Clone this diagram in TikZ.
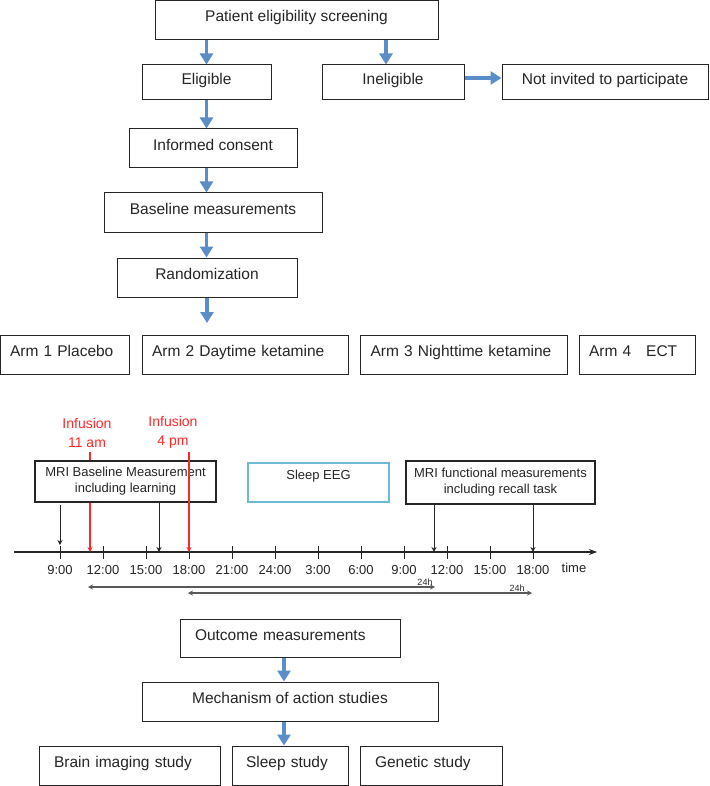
\documentclass[tikz,border=0pt]{standalone}
\usepackage{fontspec}
\setmainfont{Liberation Sans}
\usetikzlibrary{arrows.meta}
\definecolor{flowblue}{RGB}{91,141,201}
\definecolor{eegblue}{RGB}{110,185,212}
\definecolor{infred}{RGB}{255,40,40}
\definecolor{ink}{RGB}{38,38,38}
\begin{document}
\begin{tikzpicture}[x=1pt,y=-1pt]
\tikzset{
  every node/.style={text=ink},
  bigf/.style={font=\fontsize{15.5}{18}\selectfont},
  fbox/.style={bigf, draw=ink, line width=1pt, fill=white, inner xsep=0pt, inner ysep=0pt, text height=11pt, text depth=7pt},
  lbox/.style={fbox, align=left},
  tbox/.style={draw=ink, line width=1.3pt, fill=white, inner sep=0pt, align=center, font=\fontsize{13}{16}\selectfont},
  flow/.style={draw=flowblue, line width=3.5pt, -{Triangle[width=13pt,length=11pt]}},
  pin/.style={draw=ink, line width=0.9pt, -{Stealth[length=5pt,width=5pt]}},
  redpin/.style={draw=infred, line width=1.1pt, -{Stealth[length=5pt,width=5pt]}},
  span/.style={draw=gray!70!black, line width=1.4pt, {Stealth[length=5pt,width=5pt]}-{Stealth[length=5pt,width=5pt]}},
  ticklab/.style={font=\fontsize{13}{15}\selectfont, inner sep=0pt},
  inflab/.style={font=\fontsize{14}{19}\selectfont, text=infred, align=center, inner sep=0pt},
  smalllab/.style={font=\fontsize{9}{10}\selectfont, anchor=base, inner sep=0pt},
}
\fill[white] (0,0) rectangle (709,786);
\useasboundingbox (0,0) rectangle (709,786);

% ---------- top flow ----------
\node[fbox, minimum width=283pt, minimum height=39pt] (pat) at (296.5,20) {Patient eligibility screening};
\node[fbox, minimum width=129pt, minimum height=35pt] (elig) at (206.5,82.5) {Eligible};
\node[fbox, minimum width=142pt, minimum height=35pt] (inel) at (393,82.5) {Ineligible};
\node[fbox, minimum width=206pt, minimum height=35pt] (notinv) at (605,82.5) {Not invited to participate};
\node[fbox, minimum width=168pt, minimum height=39pt] (inf) at (213,148.5) {Informed consent};
\node[fbox, minimum width=218pt, minimum height=39pt] (base) at (213,212.5) {Baseline measurements};
\node[fbox, minimum width=180pt, minimum height=39pt] (rand) at (207,277.5) {Randomization};

\node[lbox, minimum width=129pt, minimum height=39pt, text width=109pt] (arm1) at (64.5,354.5) {Arm 1 Placebo};
\node[lbox, minimum width=206pt, minimum height=39pt, text width=186pt] (arm2) at (245,354.5) {Arm 2 Daytime ketamine};
\node[lbox, minimum width=207pt, minimum height=39pt, text width=186pt] (arm3) at (463.5,354.5) {Arm 3 Nighttime ketamine};
\node[lbox, minimum width=116pt, minimum height=39pt, text width=96pt] (arm4) at (637,354.5) {Arm 4\hspace{15pt}ECT};

\coordinate (inelTop) at ([xshift=-7pt]inel.north);
\draw[flow] (elig.north |- pat.south) -- (elig.north);
\draw[flow] (inelTop |- pat.south) -- (inelTop);
\draw[flow] ([yshift=4.5pt]inel.east) -- ([yshift=4.5pt]notinv.west);
\draw[flow] (elig.south) -- (elig.south |- inf.north);
\draw[flow] (elig.south |- inf.south) -- (elig.south |- base.north);
\draw[flow] (elig.south |- base.south) -- (elig.south |- rand.north);
\coordinate (armtop) at (207,323);
\draw[flow] (rand.south) -- (armtop);

% ---------- timeline ----------
\coordinate (axL) at (14,552);
\coordinate (axR) at (597,552);
\draw[ink, line width=1.3pt, -{Stealth[length=8pt,width=6pt]}] (axL) -- (axR);
\foreach \k in {0,...,11} \draw[ink, line width=1pt] ({60+43*\k},546) -- ({60+43*\k},559);
\foreach \lab [count=\k from 0] in {9:00,12:00,15:00,18:00,21:00,24:00,3:00,6:00,9:00,12:00,15:00,18:00}
  \node[ticklab] (tl\k) at ({60+43*\k},570) {\lab};
\node[ticklab] (timelab) at (574,568) {time};

\node[inflab] (inf1) at (87,432.5) {Infusion\\11 am};
\node[inflab] (inf2) at (173,432.5) {Infusion\\4 pm};

\coordinate (r1t) at (90,452);
\coordinate (r1b) at (90,552);
\draw[redpin] (r1t) -- (r1b);

\node[tbox, minimum width=181pt, minimum height=41pt] (mri1) at (125.5,481.5) {MRI Baseline Measurement\\including learning};
\node[tbox, draw=eegblue, minimum width=141pt, minimum height=39pt] (eeg) at (318.5,482.5) {Sleep EEG\\\mbox{}};
\node[tbox, minimum width=189pt, minimum height=43pt] (mri2) at (500.5,482.5) {MRI functional measurements\\including recall task};

\coordinate (r2t) at (189,452);
\coordinate (r2b) at (189,552);
\draw[redpin] (r2t) -- (r2b);

\coordinate (b1t) at (60,505);
\coordinate (b1b) at (60,545);
\draw[pin] (b1t) -- (b1b);
\coordinate (b2b) at (159,552);
\draw[pin] (mri1.south -| b2b) -- (b2b);
\coordinate (b3b) at (434,552);
\draw[pin] (mri2.south -| b3b) -- (b3b);
\coordinate (b4b) at (533,552);
\draw[pin] (mri2.south -| b4b) -- (b4b);

\coordinate (s1L) at (88,587);
\coordinate (s1R) at (435,587);
\draw[span] (s1L) -- (s1R);
\node[smalllab] (h1) at (425,585.2) {24h};
\coordinate (s2L) at (188,593);
\coordinate (s2R) at (532,593);
\draw[span] (s2L) -- (s2R);
\node[smalllab] (h2) at (517,591.2) {24h};

% ---------- bottom flow ----------
\node[lbox, minimum width=220pt, minimum height=38pt, text width=190pt] (out) at (290,638) {Outcome measurements};
\node[fbox, minimum width=296pt, minimum height=39pt] (mech) at (290,701.5) {Mechanism of action studies};
\node[lbox, minimum width=181pt, minimum height=39pt, text width=151pt] (brain) at (129.5,765.5) {Brain imaging study};
\node[lbox, minimum width=116pt, minimum height=39pt, text width=88pt] (sleep) at (290,765.5) {Sleep study};
\node[lbox, minimum width=142pt, minimum height=39pt, text width=112pt] (gen) at (431,765.5) {Genetic study};

\draw[flow] ([xshift=-6pt]out.south) -- ([xshift=-6pt]mech.north);
\draw[flow] ([xshift=-6pt]mech.south) -- ([xshift=-6pt]sleep.north);
\end{tikzpicture}
\end{document}
